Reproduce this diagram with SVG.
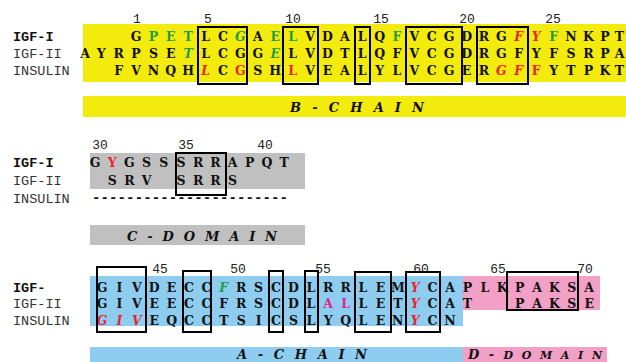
<svg xmlns="http://www.w3.org/2000/svg" width="626" height="362" viewBox="0 0 626 362">
<style>
text{font-family:"Liberation Mono","DejaVu Sans Mono",monospace;fill:#111}
.r{font-family:"DejaVu Serif","Liberation Serif",serif;font-size:12.5px;font-weight:bold;text-anchor:middle}
.lbl{font-size:13.5px;fill:#333}
.lb{font-weight:bold;fill:#111}
.num{font-size:13px;text-anchor:middle;fill:#222}
.bar{font-family:"DejaVu Serif","Liberation Serif",serif;font-size:13px;font-weight:bold;font-style:italic}
.g{fill:#1f9e48}
.red{fill:#e8242c}
.mag{fill:#e0238e}
.it{font-style:italic}
.box{fill:none;stroke:#000;stroke-width:2}
</style>
<rect width="626" height="362" fill="#fff"/>

<g id="b-chain">
<rect x="83" y="24" width="543" height="58" fill="#f3eb0c"/>
<rect x="83" y="96" width="543" height="21" fill="#f3eb0c"/>
<text class="bar" x="290" y="112" textLength="134" lengthAdjust="spacing">B - C H A I N</text>
<text class="lbl lb" x="13" y="41">IGF-I</text>
<text class="lbl" x="13" y="57.5">IGF-II</text>
<text class="lbl" x="13" y="75">INSULIN</text>
<text class="num" y="23"><tspan x="137">1</tspan><tspan x="208">5</tspan><tspan x="293">10</tspan><tspan x="381">15</tspan><tspan x="467">20</tspan><tspan x="553">25</tspan></text>
<text class="r" y="41" x="136 153.4 170.8 188.2 205.6 223 240.4 257.8 275.2 292.6 310 327.4 344.8 362.2 379.6 397 414.4 431.8 449.2 466.6 484 501.4 518.8 536.2 553.6 571 588.4 605 619.5">G<tspan class="g">PET</tspan>LC<tspan class="g it">G</tspan>A<tspan class="g">EL</tspan>VDALQ<tspan class="g">F</tspan>VCGDRG<tspan class="red it">FY</tspan><tspan class="g">F</tspan>NKPT</text>
<text class="r" y="57.5" x="85 101.2 118.6 136 153.4 170.8 188.2 205.6 223 240.4 257.8 275.2 292.6 310 327.4 344.8 362.2 379.6 397 414.4 431.8 449.2 466.6 484 501.4 518.8 536.2 553.6 571 588.4 605 619.5">AYRPSE<tspan class="g it">T</tspan>LCGG<tspan class="g it">E</tspan>LVDTLQFVCGDRGFYFSRPA</text>
<text class="r" y="75" x="118.6 136 153.4 170.8 188.2 205.6 223 240.4 257.8 275.2 292.6 310 327.4 344.8 362.2 379.6 397 414.4 431.8 449.2 466.6 484 501.4 518.8 536.2 553.6 571 588.4 605 619.5">FVNQH<tspan class="red it">L</tspan>C<tspan class="red">G</tspan>SH<tspan class="red">L</tspan>VEALYLVCGER<tspan class="red it">GF</tspan><tspan class="red">F</tspan>YTPKT</text>
<rect class="box" x="198" y="27" width="49" height="57"/>
<rect class="box" x="283" y="27" width="35" height="57"/>
<rect class="box" x="355" y="27" width="15" height="57"/>
<rect class="box" x="406" y="27" width="56" height="57"/>
<rect class="box" x="477" y="27" width="51" height="57"/>
</g>

<g id="c-domain">
<rect x="90" y="153" width="215" height="36" fill="#c0c0c0"/>
<rect x="90" y="225" width="215" height="20" fill="#c0c0c0"/>
<text class="bar" x="127" y="241" textLength="150" lengthAdjust="spacing">C - D O M A I N</text>
<text class="lbl lb" x="13" y="167">IGF-I</text>
<text class="lbl" x="13" y="185">IGF-II</text>
<text class="lbl" x="13" y="203">INSULIN</text>
<text class="num" y="149"><tspan x="100">30</tspan><tspan x="186">35</tspan><tspan x="265">40</tspan></text>
<text class="r" y="167" x="95 112.2 129.4 146.6 163.8 181 198.2 215.4 232.6 249.8 267 284.2">G<tspan class="red">Y</tspan>GSSSRRAPQT</text>
<text class="r" y="185" x="112.2 129.4 146.6 181 198.2 215.4 232.6">SRVSRRS</text>
<text x="92" y="202" style="font-size:14px;font-weight:bold" textLength="196" lengthAdjust="spacing">-----------------------</text>
<rect class="box" x="176" y="153" width="50" height="42"/>
</g>

<g id="a-chain">
<rect x="90" y="276" width="373" height="50" fill="#8ecdf0"/>
<rect x="463" y="276" width="137" height="34" fill="#f2a0c6"/>
<rect x="90" y="347" width="373" height="15" fill="#8ecdf0"/>
<rect x="463" y="347" width="144" height="15" fill="#f2a0c6"/>
<text class="bar" x="237" y="359" textLength="130" lengthAdjust="spacing">A - C H A I N</text>
<text class="bar" x="468" y="359" textLength="134" lengthAdjust="spacing">D - <tspan style="font-size:11px">D O M A I N</tspan></text>
<text class="lbl lb" x="13" y="292">IGF-</text>
<text class="lbl" x="13" y="308">IGF-II</text>
<text class="lbl" x="13" y="325">INSULIN</text>
<text class="num" y="273"><tspan x="160">45</tspan><tspan x="238">50</tspan><tspan x="323">55</tspan><tspan x="421">60</tspan><tspan x="498">65</tspan><tspan x="585">70</tspan></text>
<text class="r" y="292" x="102 119.4 136.8 154.2 171.6 189 206.4 223.8 241.2 258.6 276 293.4 310.8 328.2 345.6 363 380.4 397.8 415.2 432.6 450 467.4 484.8 502.2 519.6 537 554.4 571.8 589.2">GIVDECC<tspan class="g it">F</tspan>RSCDLRRLEM<tspan class="red it">Y</tspan>CAPLKPAKSA</text>
<text class="r" y="308" x="102 119.4 136.8 154.2 171.6 189 206.4 223.8 241.2 258.6 276 293.4 310.8 328.2 345.6 363 380.4 397.8 415.2 432.6 450 467.4 519.6 537 554.4 571.8 589.2">GIVEECCFRSCDL<tspan class="mag">AL</tspan>LET<tspan class="red it">Y</tspan>CATPAKSE</text>
<text class="r" y="325" x="102 119.4 136.8 154.2 171.6 189 206.4 223.8 241.2 258.6 276 293.4 310.8 328.2 345.6 363 380.4 397.8 415.2 432.6 450"><tspan class="red it">GIV</tspan>EQCCTSICSLYQLEN<tspan class="red it">Y</tspan>CN</text>
<rect class="box" x="97" y="267" width="49" height="65"/>
<rect class="box" x="183" y="271" width="28" height="61"/>
<rect class="box" x="269" y="271" width="14" height="61"/>
<rect class="box" x="305" y="271" width="13" height="61"/>
<rect class="box" x="355" y="272" width="36" height="60"/>
<rect class="box" x="406" y="272" width="34" height="60"/>
<rect class="box" x="507" y="272" width="71" height="38"/>
</g>
</svg>
